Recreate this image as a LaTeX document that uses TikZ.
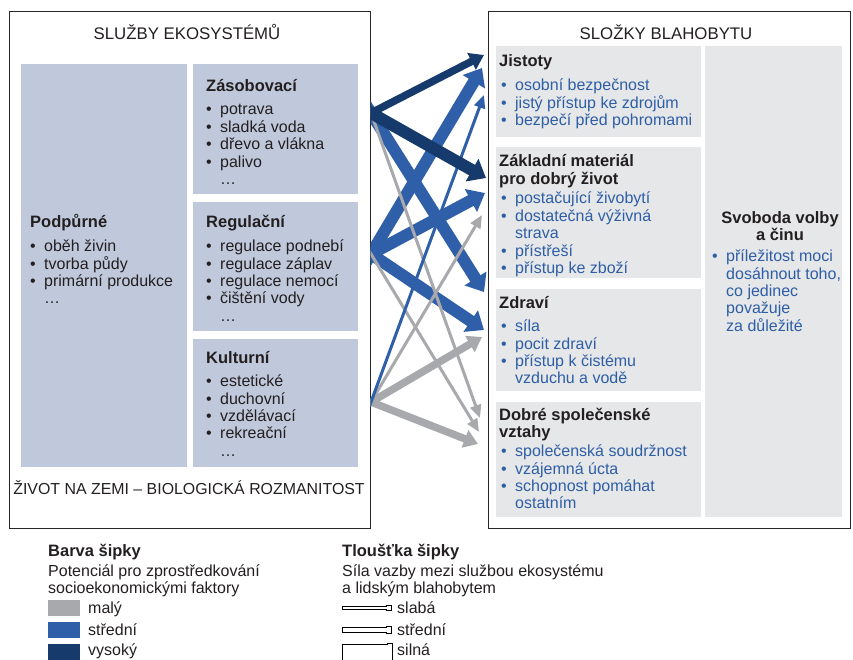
\documentclass[tikz,border=0pt]{standalone}
\usepackage{fontspec}
\setmainfont{Liberation Sans}
\usetikzlibrary{arrows.meta}
\definecolor{navy}{HTML}{153A6B}
\definecolor{midblue}{HTML}{2F5FA8}
\definecolor{arrgray}{HTML}{A7A9AC}
\definecolor{esfill}{HTML}{C0C9DC}
\definecolor{wbfill}{HTML}{E6E7E8}
\definecolor{itemblue}{HTML}{2E5EA6}
\definecolor{txt}{HTML}{231F20}
\newcommand\vlist[1]{\vtop{\baselineskip=17.35pt\lineskiplimit=-20pt\lineskip=0pt #1}}
\newcommand\bi[1]{\hbox{\makebox[14pt][l]{\textbullet}#1}}
\newcommand\ci[1]{\hbox{\hspace*{14pt}#1}}
\newcommand\hi[1]{\hbox{#1}}
\begin{document}
\begin{tikzpicture}[x=1pt,y=-1pt,
  outerbox/.style={draw=black!85,line width=1.4pt,inner sep=0,anchor=north west},
  esbox/.style={fill=esfill,inner sep=0,anchor=north west},
  wbbox/.style={fill=wbfill,inner sep=0,anchor=north west},
  ttl/.style={anchor=base,inner sep=0,text=txt,font=\fontsize{16.8}{20}\selectfont},
  hd/.style={anchor=base west,inner sep=0,text=txt,font=\fontsize{16.5}{17.35}\selectfont\bfseries},
  lst/.style={anchor=base west,inner sep=0,text=txt,font=\fontsize{16}{17.35}\selectfont},
  blst/.style={lst,text=itemblue},
  swatch/.style={inner sep=0,anchor=north west,minimum width=32pt,minimum height=16pt},
  thinA/.style={line width=3pt,-{Triangle[length=13pt,width=11pt]}},
  medA/.style={line width=7.5pt,-{Triangle[length=14pt,width=18pt]}},
  thickA/.style={line width=12pt,-{Triangle[length=16pt,width=25pt]}},
  back/.style={shorten <=-15pt},
  legarrow/.style={draw=black,line width=0.8pt,fill=white}
]
\useasboundingbox (0,0) rectangle (853,660);
\clip (0,0) rectangle (853,660);

% ---------- left: ecosystem services ----------
\node[esbox,minimum width=166pt,minimum height=403pt] (pod) at (21,64) {};
\node[esbox,minimum width=165pt,minimum height=130pt] (zas) at (193,64) {};
\node[esbox,minimum width=165pt,minimum height=129pt] (reg) at (193,202) {};
\node[esbox,minimum width=165pt,minimum height=128pt] (kul) at (193,339) {};
\node[outerbox,minimum width=361pt,minimum height=517pt] (esout) at (9,11) {};

\node[ttl] (estitle) at (187,39.3) {SLUŽBY EKOSYSTÉMŮ};
\node[ttl,font=\fontsize{15.9}{20}\selectfont] (life) at (189,494) {ŽIVOT NA ZEMI – BIOLOGICKÁ ROZMANITOST};

\node[hd] (podh) at (30,227.3) {Podpůrné};
\node[lst] (podl) at (30,251.7) {\vlist{\bi{oběh živin}\bi{tvorba půdy}\bi{primární produkce}\ci{…}}};
\node[hd] (zash) at (206,91.7) {Zásobovací};
\node[lst] (zasl) at (206,115) {\vlist{\bi{potrava}\bi{sladká voda}\bi{dřevo a vlákna}\bi{palivo}\ci{…}}};
\node[hd] (regh) at (206,227.3) {Regulační};
\node[lst] (regl) at (206,251.7) {\vlist{\bi{regulace podnebí}\bi{regulace záplav}\bi{regulace nemocí}\bi{čištění vody}\ci{…}}};
\node[hd] (kulh) at (206,363.3) {Kulturní};
\node[lst] (kull) at (206,386.7) {\vlist{\bi{estetické}\bi{duchovní}\bi{vzdělávací}\bi{rekreační}\ci{…}}};

% ---------- right: well-being ----------
\node[wbbox,minimum width=205pt,minimum height=91pt] (jis) at (496,46) {};
\node[wbbox,minimum width=205pt,minimum height=131pt] (zak) at (496,147) {};
\node[wbbox,minimum width=205pt,minimum height=102pt] (zdr) at (496,289) {};
\node[wbbox,minimum width=205pt,minimum height=115pt] (dob) at (496,402) {};
\node[wbbox,minimum width=137pt,minimum height=471pt] (svo) at (705,46) {};
\node[outerbox,minimum width=362pt,minimum height=517pt] (wbout) at (488,11) {};

\node[ttl] (wbtitle) at (666,39.3) {SLOŽKY BLAHOBYTU};

\node[hd] (jish) at (499,66.7) {Jistoty};
\node[blst] (jisl) at (501,90.7) {\vlist{\bi{osobní bezpečnost}\bi{jistý přístup ke zdrojům}\bi{bezpečí před pohromami}}};
\node[hd] (zakh) at (499,166.7) {\vlist{\hi{Základní materiál}\hi{pro dobrý život}}};
\node[blst] (zakl) at (501,204) {\vlist{\bi{postačující živobytí}\bi{dostatečná výživná}\ci{strava}\bi{přístřeší}\bi{přístup ke zboží}}};
\node[hd] (zdrh) at (499,308.3) {Zdraví};
\node[blst] (zdrl) at (501,331.7) {\vlist{\bi{síla}\bi{pocit zdraví}\bi{přístup k čistému}\ci{vzduchu a vodě}}};
\node[hd] (dobh) at (499,420) {\vlist{\hi{Dobré společenské}\hi{vztahy}}};
\node[blst] (dobl) at (501,456.7) {\vlist{\bi{společenská soudržnost}\bi{vzájemná úcta}\bi{schopnost pomáhat}\ci{ostatním}}};
\node[hd,anchor=base] (svoh) at (780,223.3) {\vtop{\baselineskip=17.35pt\halign{\hfil#\hfil\cr Svoboda volby\cr a činu\cr}}};
\node[blst] (svol) at (712,261.7) {\vlist{\bi{příležitost moci}\ci{dosáhnout toho,}\ci{co jedinec}\ci{považuje}\ci{za důležité}}};

% ---------- arrows ----------
\begin{scope}
\clip (370.6,0) rectangle (853,660);
\coordinate (zs) at (371,113);
\coordinate (rs) at (371,254);
\coordinate (ks) at (371,402);
\coordinate (zJ) at (484,55);
\coordinate (zZ) at (486,178);
\coordinate (zH) at (484,292);
\coordinate (zD) at (480,418);
\coordinate (rJ) at (482,68);
\coordinate (rZ) at (485,193);
\coordinate (rH) at (484,330);
\coordinate (rD) at (479,432);
\coordinate (kJ) at (484,95);
\coordinate (kZ) at (482,215);
\coordinate (kH) at (482,337);
\coordinate (kD) at (478,444);
% medium potential, strong
\draw[midblue,thickA,back] (zs) -- (zH);
\draw[midblue,thickA,back] (rs) -- (rJ);
\draw[midblue,thickA,back] (rs) -- (rZ);
\draw[midblue,thickA,back] (rs) -- (rH);
% low potential
\draw[arrgray,thinA,back] (zs) -- (zD);
\draw[arrgray,thinA,back] (rs) -- (rD);
\draw[arrgray,thinA,back] (ks) -- (kZ);
\draw[arrgray,medA,back] (ks) -- (kH);
\draw[arrgray,medA,back] (ks) -- (kD);
% medium potential, weak
\draw[midblue,thinA,back] (ks) -- (kJ);
% high potential
\draw[navy,medA,back] (zs) -- (zJ);
\draw[navy,thickA,back] (zs) -- (zZ);
\end{scope}

% ---------- legend ----------
\node[hd] (barva) at (48,556) {Barva šipky};
\node[lst] (pot) at (48,576) {\vlist{\hi{Potenciál pro zprostředkování}\hi{socioekonomickými faktory}}};
\node[swatch,fill=arrgray] (sw1) at (48,600) {};
\node[swatch,fill=midblue] (sw2) at (48,622) {};
\node[swatch,fill=navy] (sw3) at (48,644) {};
\node[lst] (l1) at (88,613) {malý};
\node[lst] (l2) at (88,635) {střední};
\node[lst] (l3) at (88,655.5) {vysoký};

\node[hd] (tlo) at (342,556) {Tloušťka šipky};
\node[lst] (sila) at (342,576) {\vlist{\hi{Síla vazby mezi službou ekosystému}\hi{a lidským blahobytem}}};
\draw[legarrow] (342,606.5) -- (386,606.5) -- (386,605.5) -- (391,605.5) -- (391,610.5) -- (386,610.5) -- (386,609.5) -- (342,609.5) -- cycle;
\draw[legarrow] (342,627.5) -- (386,627.5) -- (386,626.5) -- (391,626.5) -- (391,633.5) -- (386,633.5) -- (386,632.5) -- (342,632.5) -- cycle;
\draw[legarrow] (342,644) -- (387,644) -- (387,643) -- (392,643) -- (392,668) -- (342,668) -- cycle;
\node[lst] (w1) at (397,613) {slabá};
\node[lst] (w2) at (397,635) {střední};
\node[lst] (w3) at (397,655.5) {silná};
\end{tikzpicture}
\end{document}
